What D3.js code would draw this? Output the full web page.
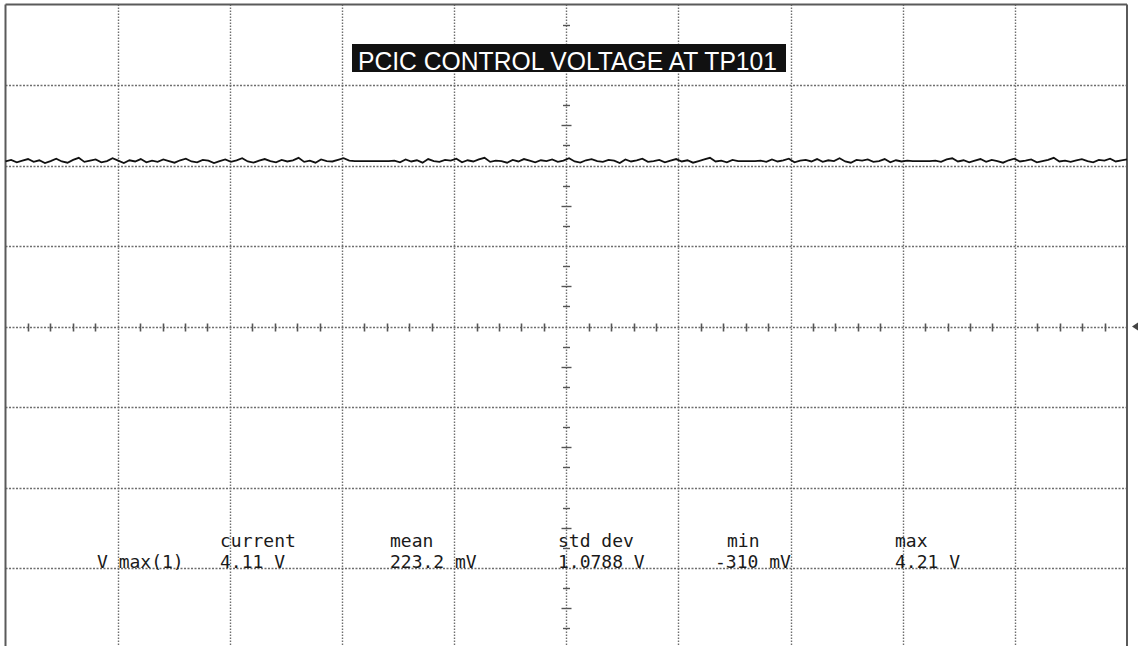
<!DOCTYPE html>
<html>
<head>
<meta charset="utf-8">
<script src="https://cdn.jsdelivr.net/npm/d3@7"></script>
<style>
html,body{margin:0;padding:0;background:#fff;}
svg{display:block;}
</style>
</head>
<body>
<svg id="chart" width="1138" height="646"></svg>
<script>
// ---- data ----
const title = "PCIC CONTROL VOLTAGE AT TP101";
const channelLabel = "V max(1)";
const statLabels = ["current", "mean", "std dev", "min", "max"];
const statValues = ["4.11 V", "223.2 mV", "1.0788 V", "-310 mV", "4.21 V"];
const trace = [
 4.10,4.14,4.08,4.12,4.16,4.09,4.13,4.06,4.11,4.17,4.10,4.07,4.14,4.19,4.09,4.12,4.15,4.08,4.11,4.18,
 4.12,4.06,4.13,4.10,4.16,4.08,4.12,4.09,4.15,4.11,4.07,4.13,4.17,4.10,4.08,4.14,4.12,4.06,4.11,4.15,
 4.09,4.13,4.18,4.10,4.07,4.12,4.16,4.11,4.08,4.14,4.10,4.13,4.19,4.09,4.12,4.07,4.15,4.11,4.10,4.14,
 4.18,4.12,4.11,4.11,4.11,4.11,4.11,4.11,4.11,4.12,4.08,4.15,4.10,4.13,4.07,4.16,4.11,4.09,4.14,4.12,
 4.17,4.08,4.13,4.10,4.15,4.19,4.09,4.12,4.11,4.07,4.14,4.10,4.16,4.12,4.08,4.13,4.11,4.15,4.09,4.12,
 4.18,4.10,4.07,4.13,4.16,4.11,4.09,4.14,4.12,4.06,4.15,4.10,4.13,4.17,4.09,4.11,4.14,4.08,4.12,4.16,
 4.10,4.13,4.07,4.11,4.15,4.19,4.10,4.12,4.08,4.14,4.11,4.11,4.11,4.11,4.12,4.09,4.15,4.10,4.13,4.17,
 4.08,4.12,4.14,4.10,4.16,4.09,4.13,4.11,4.18,4.10,4.07,4.14,4.12,4.15,4.09,4.11,4.16,4.08,4.13,4.10,
 4.12,4.11,4.11,4.11,4.11,4.12,4.09,4.15,4.18,4.10,4.13,4.08,4.12,4.16,4.09,4.14,4.11,4.07,4.13,4.17,
 4.10,4.12,4.15,4.08,4.11,4.14,4.19,4.10,4.12,4.09,4.13,4.16,4.11,4.08,4.14,4.12,4.17,4.10,4.13,4.15
];

(function () {
// ---- layout ----
const W = 1138, H = 646;
const pLeft = 5.5, pRight = 1127, pTop = 4.5, pBottom = 648.5;
const xDiv = d3.scaleLinear().domain([0, 10]).range([pLeft, pRight]);
const y = d3.scaleLinear().domain([-8, 8]).range([pBottom, pTop]);   // volts, 2 V/div
const xs = d3.scaleLinear().domain([0, trace.length - 1]).range([pLeft, pRight]);

const svg = d3.select("#chart");
svg.append("rect").attr("width", W).attr("height", H).attr("fill", "#fff");

const grid = svg.append("g");
const gridColor = "#6e6e6e";

// vertical grid lines
d3.range(1, 10).forEach(i => {
  grid.append("line")
    .attr("x1", Math.round(xDiv(i)) + 0.5).attr("x2", Math.round(xDiv(i)) + 0.5)
    .attr("y1", pTop).attr("y2", H)
    .attr("stroke", gridColor).attr("stroke-width", 1.4)
    .attr("stroke-dasharray", "1.5,1.5");
});
// horizontal grid lines (volt levels)
d3.range(-6, 8, 2).forEach(v => {
  grid.append("line")
    .attr("x1", pLeft).attr("x2", pRight)
    .attr("y1", Math.round(y(v)) + 0.5).attr("y2", Math.round(y(v)) + 0.5)
    .attr("stroke", gridColor).attr("stroke-width", 1.3)
    .attr("stroke-dasharray", "2,1.5");
});

// minor ticks on centre horizontal axis (5 per division)
const y0 = Math.round(y(0)) + 0.5;
d3.range(0, 51).filter(k => k % 5 !== 0).forEach(k => {
  const xx = Math.round(xDiv(k / 5)) + 0.5;
  grid.append("line").attr("x1", xx).attr("x2", xx)
    .attr("y1", y0 - 4).attr("y2", y0 + 4)
    .attr("stroke", "#555").attr("stroke-width", 1.6);
});
// minor ticks on centre vertical axis (4 per division)
const x0 = Math.round(xDiv(5)) + 0.5;
d3.range(-32, 33).filter(k => k % 4 !== 0).forEach(k => {
  const yy = Math.round(y(k * 0.5)) + 0.5;
  const half = (Math.abs(k) % 4 === 2) ? 5 : 3.5;
  grid.append("line").attr("x1", x0 - half).attr("x2", x0 + half)
    .attr("y1", yy).attr("y2", yy)
    .attr("stroke", "#555").attr("stroke-width", 1.4);
});

// frame
const frame = svg.append("g").attr("stroke", "#5a5a5a").attr("stroke-width", 2).attr("fill", "none");
frame.append("line").attr("x1", pLeft).attr("x2", pLeft).attr("y1", pTop).attr("y2", H);
frame.append("line").attr("x1", pRight).attr("x2", pRight).attr("y1", pTop).attr("y2", H);
frame.append("line").attr("x1", pLeft).attr("x2", pRight).attr("y1", pTop).attr("y2", pTop);

// ground marker on the right
svg.append("path")
  .attr("d", `M${pRight + 5},${y(0)} l6,-4 l0,8 z`)
  .attr("fill", "#444");

// trace
const line = d3.line().x((d, i) => xs(i)).y(d => y(d)).curve(d3.curveLinear);
svg.append("path").datum(trace)
  .attr("d", line)
  .attr("fill", "none").attr("stroke", "#111").attr("stroke-width", 1.8);

// title box
const tg = svg.append("g");
tg.append("rect").attr("x", 352).attr("y", 44).attr("width", 434).attr("height", 28).attr("fill", "#111");
tg.append("text").attr("x", 358).attr("y", 70)
  .attr("font-family", "Liberation Sans, Arial, sans-serif").attr("font-size", 26)
  .attr("textLength", 419).attr("lengthAdjust", "spacingAndGlyphs")
  .attr("fill", "#fff").text(title);

// measurement readout
const mono = "DejaVu Sans Mono, Liberation Mono, monospace";
const labelX = [220, 390, 558, 727, 895];
const valueX = [220, 390, 558, 715, 895];
const rowLabelY = 547, rowValueY = 568;
const ro = svg.append("g").attr("font-family", mono).attr("font-size", 18).attr("fill", "#1a1a1a");
ro.append("text").attr("x", 97).attr("y", rowValueY).text(channelLabel);
statLabels.forEach((s, i) => {
  ro.append("text").attr("x", labelX[i]).attr("y", rowLabelY).text(s);
  ro.append("text").attr("x", valueX[i]).attr("y", rowValueY).attr("xml:space", "preserve").text(statValues[i]);
});
})();
</script>
</body>
</html>
